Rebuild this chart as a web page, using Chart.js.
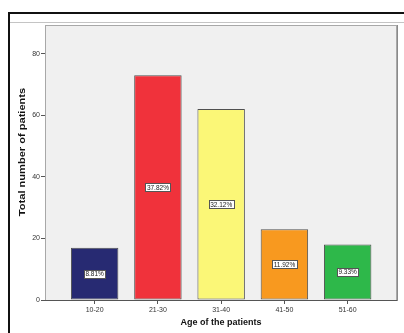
<!DOCTYPE html>
<html>
<head>
<meta charset="utf-8">
<script src="https://cdn.jsdelivr.net/npm/chart.js@4/dist/chart.umd.min.js"></script>
<style>
html,body{margin:0;padding:0;background:#fff;}
#wrap{width:404px;height:333px;position:relative;}
</style>
</head>
<body>
<div id="wrap"><canvas id="c" width="404" height="333"></canvas></div>
<script>
const categories = ['10-20', '21-30', '31-40', '41-50', '51-60'];
const patientCounts = [17, 73, 62, 23, 18];
const percentLabels = ['8.81%', '37.82%', '32.12%', '11.92%', '9.33%'];
const barColors = ['#272a72', '#f0323b', '#fbf777', '#f8991f', '#2eb84a'];
const yTickValues = [0, 20, 40, 60, 80];
const xTitle = 'Age of the patients';
const yTitle = 'Total number of patients';

const framePlugin = {
  id: 'frame',
  beforeDraw(chart) {
    const ctx = chart.ctx, a = chart.chartArea;
    ctx.save();
    ctx.fillStyle = '#fff';
    ctx.fillRect(0, 0, chart.width, chart.height);
    ctx.fillStyle = '#111';
    ctx.fillRect(8, 12, chart.width - 8, 2);
    ctx.fillRect(8, 12, 2, chart.height - 12);
    ctx.fillStyle = '#c4c4c4';
    ctx.fillRect(10, 22, chart.width - 10, 1);
    ctx.fillStyle = '#f0f0f0';
    ctx.fillRect(a.left, a.top, a.right - a.left, a.bottom - a.top);
    ctx.restore();
  },
  afterDatasetsDraw(chart) {
    const ctx = chart.ctx, a = chart.chartArea;
    ctx.save();
    ctx.strokeStyle = '#a8a8a8';
    ctx.lineWidth = 1;
    ctx.strokeRect(a.left + 0.5, a.top + 0.5, a.right - a.left - 1, a.bottom - a.top);
    ctx.strokeStyle = '#8a8a8a';
    ctx.beginPath();
    ctx.moveTo(a.right + 0.5, a.top);
    ctx.lineTo(a.right + 0.5, a.bottom + 1);
    ctx.stroke();
    ctx.strokeStyle = '#555';
    ctx.beginPath();
    ctx.moveTo(a.left, a.bottom + 0.5);
    ctx.lineTo(a.right, a.bottom + 0.5);
    ctx.stroke();
    const meta = chart.getDatasetMeta(0);
    ctx.font = '6.5px "Liberation Sans", Arial, sans-serif';
    ctx.textAlign = 'center';
    ctx.textBaseline = 'middle';
    meta.data.forEach((bar, i) => {
      const cx = bar.x;
      const cy = (bar.y + bar.base) / 2;
      const txt = percentLabels[i];
      const w = Math.round(ctx.measureText(txt).width) + 3;
      const h = 8;
      const x0 = Math.round(cx - w / 2) + 0.5, y0 = Math.round(cy - h / 2) + 0.5;
      ctx.fillStyle = '#fff';
      ctx.fillRect(x0, y0, w, h);
      ctx.strokeStyle = '#555';
      ctx.strokeRect(x0, y0, w, h);
      ctx.fillStyle = '#222';
      ctx.fillText(txt, cx, cy + 0.5);
    });
    // y axis title (stretched along its length like the original)
    ctx.translate(23, 152);
    ctx.rotate(-Math.PI / 2);
    ctx.scale(1.23, 1);
    ctx.font = 'bold 9px "Liberation Sans", Arial, sans-serif';
    ctx.fillStyle = '#111';
    ctx.textAlign = 'center';
    ctx.textBaseline = 'middle';
    ctx.fillText(yTitle, 0, 0);
    ctx.restore();
  }
};

new Chart(document.getElementById('c'), {
  type: 'bar',
  data: {
    datasets: [{
      data: patientCounts.map((v, i) => ({ x: i, y: v })),
      backgroundColor: barColors,
      borderColor: '#505050',
      borderWidth: 1,
      borderSkipped: false,
      categoryPercentage: 1,
      barPercentage: 0.75
    }]
  },
  options: {
    responsive: false,
    animation: false,
    events: [],
    layout: { padding: { top: 25, right: 7, left: 0, bottom: 0 } },
    plugins: { legend: { display: false }, tooltip: { enabled: false } },
    scales: {
      x: {
        type: 'linear',
        offset: false,
        min: -0.785,
        max: 4.78,
        afterFit(s) { s.height = 33; },
        afterBuildTicks(s) { s.ticks = categories.map((c, i) => ({ value: i })); },
        ticks: {
          callback: (v) => categories[v],
          autoSkip: false,
          maxRotation: 0,
          padding: 1.5,
          color: '#333',
          font: { family: '"Liberation Sans", Arial, sans-serif', size: 7 }
        },
        grid: { offset: false, drawOnChartArea: false, drawTicks: true, tickLength: 4, color: '#555' },
        border: { display: false },
        title: {
          display: true,
          text: xTitle,
          color: '#111',
          font: { family: '"Liberation Sans", Arial, sans-serif', size: 9, weight: 'bold' },
          padding: { top: 0, bottom: 4.6 }
        }
      },
      y: {
        min: 0,
        max: 89.3,
        afterFit(s) { s.width = 45; },
        afterBuildTicks(s) { s.ticks = yTickValues.map(v => ({ value: v })); },
        ticks: {
          padding: 1,
          color: '#333',
          font: { family: '"Liberation Sans", Arial, sans-serif', size: 7 }
        },
        grid: { drawOnChartArea: false, drawTicks: true, tickLength: 4, color: '#555' },
        border: { display: false },
        title: { display: false }
      }
    }
  },
  plugins: [framePlugin]
});
</script>
</body>
</html>
